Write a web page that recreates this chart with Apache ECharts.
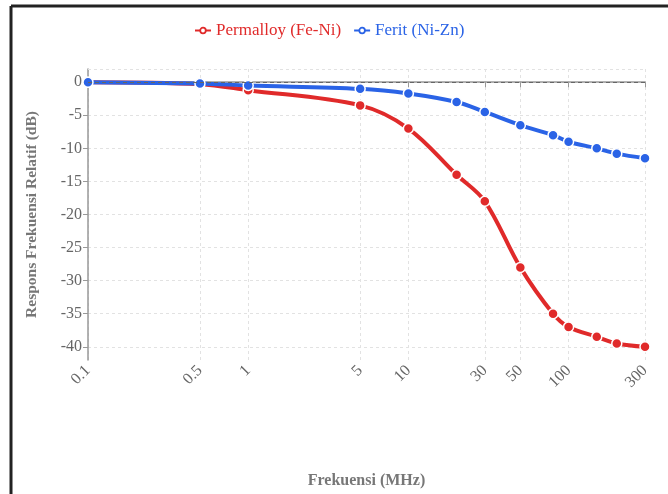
<!DOCTYPE html>
<html>
<head>
<meta charset="utf-8">
<script src="https://cdn.jsdelivr.net/npm/echarts@6/dist/echarts.min.js"></script>
<style>
  html, body { margin: 0; padding: 0; background: #fff; }
  #main { width: 668px; height: 494px; }
</style>
</head>
<body>
<div id="main"></div>
<script>
  // frekuensi (MHz) tiap titik
  var freqPermalloy = [0.1, 0.5, 1, 5, 10, 20, 30, 50, 80, 100, 150, 200, 300];
  var respPermalloy = [0, -0.3, -1.2, -3.5, -7, -14, -18, -28, -35, -37, -38.5, -39.5, -40];
  var freqFerit = [0.1, 0.5, 1, 5, 10, 20, 30, 50, 80, 100, 150, 200, 300];
  var respFerit = [0, -0.2, -0.5, -1, -1.7, -3, -4.5, -6.5, -8, -9, -10, -10.8, -11.5];

  var xTicks = [0.1, 0.5, 1, 5, 10, 30, 50, 100, 300];
  var yTicks = [0, -5, -10, -15, -20, -25, -30, -35, -40];

  var fontSerif = '"Liberation Serif", "DejaVu Serif", serif';
  var red = '#e02a2a';
  var blue = '#2a63e6';

  function pairs(xs, ys) {
    var out = [];
    for (var i = 0; i < xs.length; i++) out.push([xs[i], ys[i]]);
    return out;
  }

  var chart = echarts.init(document.getElementById('main'));
  var option = {
    backgroundColor: '#fff',
    animation: false,
    legend: {
      top: 17,
      left: 189,
      itemWidth: 16,
      itemHeight: 7,
      itemGap: 12,
      lineStyle: { width: 2 },
      textStyle: { fontFamily: fontSerif, fontSize: 17 },
      data: [
        { name: 'Permalloy (Fe-Ni)', textStyle: { color: red },
          itemStyle: { color: '#fff', borderColor: red, borderWidth: 1.8 } },
        { name: 'Ferit (Ni-Zn)', textStyle: { color: blue },
          itemStyle: { color: '#fff', borderColor: blue, borderWidth: 1.8 } }
      ]
    },
    grid: { left: 88, right: 23, top: 69, bottom: 133 },
    xAxis: {
      type: 'log',
      min: 0.1,
      max: 300,
      name: 'Frekuensi (MHz)',
      nameLocation: 'middle',
      nameGap: 113,
      nameTextStyle: { fontFamily: fontSerif, fontSize: 16, fontWeight: 'bold', color: '#777' },
      axisLine: { lineStyle: { color: '#999', width: 1.5 } },
      axisTick: { show: true, length: 5, customValues: xTicks, lineStyle: { color: '#999' } },
      axisLabel: {
        customValues: xTicks,
        rotate: 45,
        fontFamily: fontSerif,
        fontSize: 16,
        color: '#666',
        formatter: function (v) { return String(v); }
      },
      splitLine: { show: true, lineStyle: { type: [3, 3], color: '#e2e2e2' } },
      minorTick: { show: false }
    },
    yAxis: {
      type: 'value',
      min: -42,
      max: 2,
      name: 'Respons Frekuensi Relatif (dB)',
      nameLocation: 'middle',
      nameGap: 48,
      nameTextStyle: { fontFamily: fontSerif, fontSize: 15.5, fontWeight: 'bold', color: '#777' },
      axisLine: { show: true, lineStyle: { color: '#999', width: 1.5 } },
      axisTick: { show: true, length: 5, customValues: yTicks, lineStyle: { color: '#999' } },
      axisLabel: { customValues: yTicks, fontFamily: fontSerif, fontSize: 16, color: '#666', margin: 6 },
      splitLine: { show: true, lineStyle: { type: [3, 3], color: '#e2e2e2' } }
    },
    series: [
      {
        name: 'Permalloy (Fe-Ni)',
        type: 'line',
        data: pairs(freqPermalloy, respPermalloy),
        smooth: 0.35,
        symbol: 'circle',
        symbolSize: 10,
        color: red,
        lineStyle: { width: 4, color: red },
        itemStyle: { color: red, borderColor: '#fff', borderWidth: 1.5 },
        z: 2,
        markLine: {
          silent: true,
          symbol: 'none',
          label: { show: false },
          data: [
            { yAxis: 0, lineStyle: { type: [4, 3], color: '#666', width: 1 } },
            { yAxis: 2, lineStyle: { type: [3, 3], color: '#e2e2e2', width: 1 } }
          ]
        }
      },
      {
        name: 'Ferit (Ni-Zn)',
        type: 'line',
        data: pairs(freqFerit, respFerit),
        smooth: 0.35,
        symbol: 'circle',
        symbolSize: 10,
        color: blue,
        lineStyle: { width: 4, color: blue },
        itemStyle: { color: blue, borderColor: '#fff', borderWidth: 1.5 },
        z: 3
      }
    ],
    graphic: [
      { type: 'line', shape: { x1: 11, y1: 6, x2: 11, y2: 494 }, style: { stroke: '#222', lineWidth: 3 } },
      { type: 'line', shape: { x1: 11, y1: 6, x2: 668, y2: 6 }, style: { stroke: '#222', lineWidth: 3 } }
    ]
  };
  chart.setOption(option);
</script>
</body>
</html>
